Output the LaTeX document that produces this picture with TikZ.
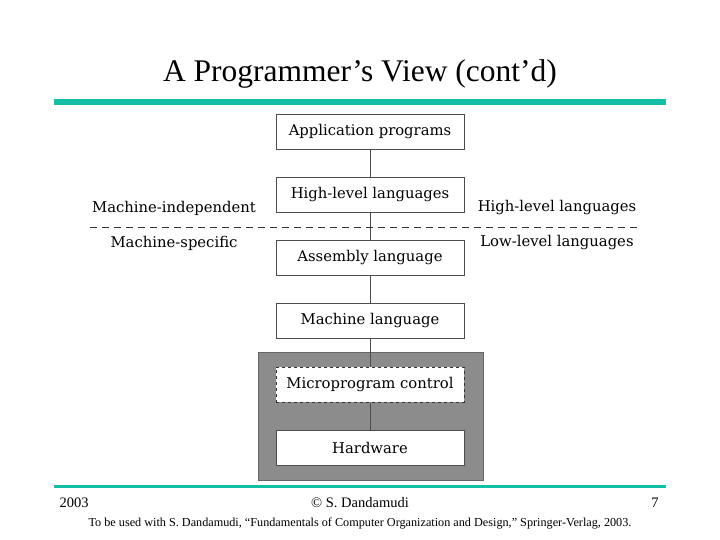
\documentclass[tikz,border=0pt]{standalone}
\usepackage{fontspec}
\setmainfont{Liberation Serif}
\newfontfamily\figfont{DejaVu Serif}
\definecolor{barc}{RGB}{20,190,165}
\begin{document}
\begin{tikzpicture}[x=1pt,y=-1pt,
  lay/.style={draw=black!70,fill=white,minimum width=188pt,minimum height=35pt,font=\figfont\fontsize{14.8}{17}\selectfont,inner sep=0pt},
  lbl/.style={font=\figfont\fontsize{14.8}{17}\selectfont},
  link/.style={draw=black!70,line width=0.6pt}]
\useasboundingbox (0,0) rectangle (720,540);
\node[font=\fontsize{31.5}{34}\selectfont] (title) at (360,74) {A Programmer’s View (cont’d)};
\fill[barc] (54,99) rectangle (666,105);
\fill[draw=black!60,fill=black!45] (258,352) rectangle (483,480);
\node[lay] (app) at (370,131.5) {Application programs};
\node[lay] (hl) at (370,194.5) {High-level languages};
\node[lay] (asm) at (370,257.5) {Assembly language};
\node[lay] (ml) at (370,320.5) {Machine language};
\node[lay,dashed,line width=1pt,draw=black!80] (mp) at (370,384.5) {Microprogram control};
\node[lay] (hw) at (370,447.5) {Hardware};
\draw[link] (app) -- (hl);
\draw[link] (hl) -- (asm);
\draw[link] (asm) -- (ml);
\draw[link] (ml) -- (mp);
\draw[link] (mp) -- (hw);
\coordinate (dl) at (90,227); \coordinate (dr) at (640,227);
\draw[dashed,dash pattern=on 7pt off 5pt,line width=0.8pt,black!80] (dl) -- (dr);
\node[lbl] (mi) at (174,208) {Machine-independent};
\node[lbl] (ms) at (174,243) {Machine-specific};
\node[lbl] (hll) at (557,208) {High-level languages};
\node[lbl] (lll) at (557,243) {Low-level languages};
\fill[barc] (54,485) rectangle (666,488);
\node[font=\fontsize{14.5}{16}\selectfont] (yr) at (74,503) {2003};
\node[font=\fontsize{14.5}{16}\selectfont] (cp) at (360,503) {© S. Dandamudi};
\node[font=\fontsize{14.5}{16}\selectfont] (pg) at (655,503) {7};
\node[font=\fontsize{12.2}{14}\selectfont] (note) at (360,524) {To be used with S. Dandamudi, “Fundamentals of Computer Organization and Design,” Springer-Verlag, 2003.};
\end{tikzpicture}
\end{document}
